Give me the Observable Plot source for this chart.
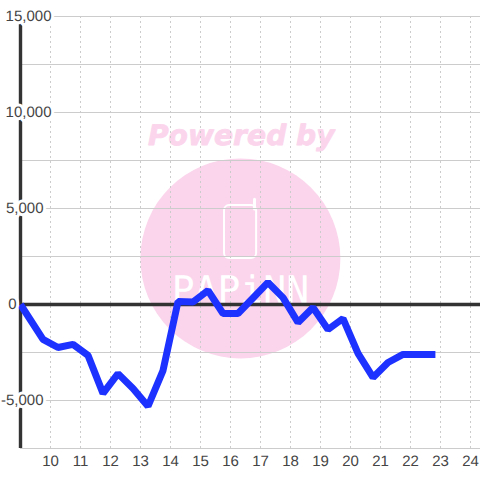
<!DOCTYPE html>
<html><head><meta charset="utf-8">
<script src="https://cdn.jsdelivr.net/npm/d3@7"></script>
<script src="https://cdn.jsdelivr.net/npm/@observablehq/plot@0.6"></script>
<style>html,body{margin:0;padding:0;background:#fff}svg{display:block}svg text{text-rendering:geometricPrecision}</style>
</head><body><div id="chart"></div>
<script>
const hours = [9,9.75,10.25,10.75,11.25,11.75,12.25,12.75,13.25,13.75,14.25,14.75,15.25,15.75,16.25,16.75,17.25,17.75,18.25,18.75,19.25,19.75,20.25,20.75,21.25,21.75,22.25,22.83];
const values = [0,-1820,-2240,-2080,-2650,-4630,-3600,-4370,-5300,-3440,150,130,730,-470,-470,340,1150,360,-940,-160,-1300,-730,-2550,-3800,-3020,-2600,-2600,-2600];
const xTicks = [10,11,12,13,14,15,16,17,18,19,20,21,22,23,24];
const gridY = [-7500,-5000,-2500,0,2500,5000,7500,10000,12500,15000];
const wideLabels = [15000,10000];
const midLabels = [5000,-5000];
const zeroLabel = [0];
const series = hours.map((h,i)=>({h,v:values[i]}));
const pink = "#fbd5ec";
const fmt = d => d3.format(",")(d).replace("\u2212","-");
const labelStyle = {x:9,y:d=>d,text:d=>fmt(d),fill:"#444",fontSize:15,stroke:"#fff",strokeWidth:6,paintOrder:"stroke",textAnchor:"end"};
const chart = Plot.plot({
  width:480,height:480,
  marginLeft:20,marginRight:0,marginTop:16,marginBottom:32,
  style:{background:"#fff",fontFamily:"'Liberation Sans',Arial,sans-serif"},
  x:{domain:[9,24.333],axis:null},
  y:{domain:[-7500,15000],axis:null},
  marks:[
    Plot.dot([{x:16.33,y:2400}],{x:"x",y:"y",r:100,fill:pink,stroke:"none"}),
    Plot.text(["Powered by"],{x:16.36,y:8800,text:d=>d,fill:pink,stroke:pink,strokeWidth:0.8,fontFamily:"'DejaVu Sans'",fontWeight:"bold",fontStyle:"italic",fontSize:28.2}),
    Plot.rect([{x1:15.8,x2:16.87,y1:2400,y2:5150}],{x1:"x1",x2:"x2",y1:"y1",y2:"y2",rx:5,stroke:"#fff",strokeWidth:2,fill:"none"}),
    Plot.ruleX([16.8],{y1:4950,y2:5450,stroke:"#fff",strokeWidth:3,strokeLinecap:"round"}),
    Plot.text(["PAPiNN"],{x:16.33,y:730,text:d=>d,fill:"#fff",fontFamily:"'DejaVu Sans Mono'",fontSize:38}),
    Plot.ruleY(gridY,{stroke:"#ccc",strokeWidth:1}),
    Plot.ruleX(xTicks,{stroke:"#ccc",strokeWidth:1,strokeDasharray:"2 3"}),
    Plot.ruleY([0],{stroke:"#333",strokeWidth:3.4}),
    Plot.ruleX([9],{stroke:"#333",strokeWidth:3.4}),
    Plot.line(series,{x:"h",y:"v",stroke:"#1e32ff",strokeWidth:7,strokeLinejoin:"miter",strokeLinecap:"butt",curve:"linear",clip:false}),
    Plot.text(wideLabels,{...labelStyle,dx:31}),
    Plot.text(midLabels,{...labelStyle,dx:23}),
    Plot.text(zeroLabel,{...labelStyle,dx:-4}),
    Plot.text(xTicks,{x:d=>d,frameAnchor:"bottom",dy:17,text:d=>String(d),fill:"#444",fontSize:15})
  ]
});
document.getElementById("chart").append(chart);
</script></body></html>
